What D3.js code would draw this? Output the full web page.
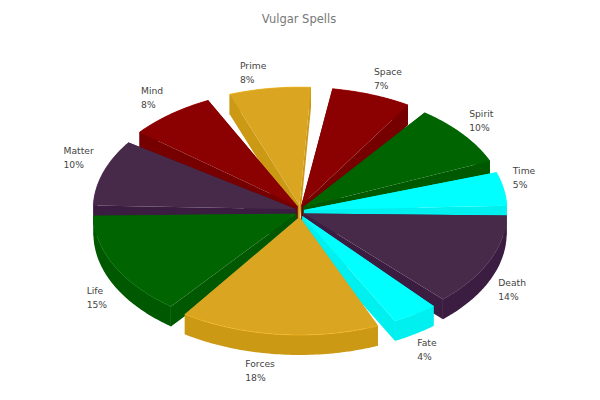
<!DOCTYPE html>
<html><head><meta charset="utf-8">
<script src="https://cdn.jsdelivr.net/npm/d3@7/dist/d3.min.js"></script>
<style>html,body{margin:0;padding:0;background:#fff}svg{display:block}text{font-family:"DejaVu Sans",sans-serif}</style>
</head><body><svg id="c" width="600" height="400"></svg>
<script>
const categories=["Death","Fate","Forces","Life","Matter","Mind","Prime","Space","Spirit","Time"];
const values=[13.3,4.4,17.25,14.3,10,8.2,8.3,7.35,9.9,5.35];
const topColors=["#472a4a","#00ffff","#daa520","#006400","#472a4a","#8b0000","#daa520","#8b0000","#006400","#00ffff"];
const wallColors=["#3c1d42","#00f0f0","#cc9914","#005800","#3c1d42","#760000","#cc9914","#760000","#005800","#00f0f0"];
const sliceGapDeg=[3,3,6,1.5,4,5,7,4,6,3];
const labelNudgeX=[8,3,-17,-3,-9,-8.5,-14,11,6,5];
const labelNudgeY=[16,10,6,18,-6,6,13,11,3.5,-7];

const cx=300,cy=211,rx=203,ry=118,depth=20,ex=4,ey=6;
const total=d3.sum(values);
const svg=d3.select("#c");
svg.append("text").attr("x",299).attr("y",23).attr("text-anchor","middle").attr("font-size",11.5).attr("fill","#777").text("Vulgar Spells");

const rad=Math.PI/180, rot=-0.5*rad;
const pie=d3.pie().sort(null).startAngle(Math.PI/2+rot).endAngle(Math.PI/2+2*Math.PI+rot);
const slices=pie(values).map((d,i)=>{
  const pad=sliceGapDeg[i]*rad;
  const a0=d.startAngle-Math.PI/2+pad/2, a1=d.endAngle-Math.PI/2-pad/2, mid=(a0+a1)/2;
  return {i,a0,a1,mid,ax:cx+ex*Math.cos(mid),ay:cy+ey*Math.sin(mid)};
});
const pt=(s,a,dz=0)=>[s.ax+rx*Math.cos(a),s.ay+ry*Math.sin(a)+dz];
const line=d3.line();
const order=slices.slice().sort((p,q)=>Math.sin(p.mid)-Math.sin(q.mid));
order.forEach(s=>{
  const g=svg.append("g");
  const arcA=d3.range(0,61).map(k=>s.a0+(s.a1-s.a0)*k/60);
  const top=arcA.map(a=>pt(s,a));
  const low=arcA.map(a=>pt(s,a,depth)).reverse();
  const wall=wallColors[s.i];
  [s.a0,s.a1].forEach(a=>{
    g.append("path").attr("d",line([[s.ax,s.ay],pt(s,a),pt(s,a,depth),[s.ax,s.ay+depth]])+"Z").attr("fill",wall);
  });
  g.append("path").attr("d",line(top.concat(low))+"Z").attr("fill",wall);
  g.append("path").attr("d",line([[s.ax,s.ay]].concat(top))+"Z").attr("fill",topColors[s.i]);
  g.append("path").attr("d",line(top)).attr("fill","none").attr("stroke",d3.color(topColors[s.i]).brighter(0.35)).attr("stroke-width",0.6);
});
slices.forEach(s=>{
  const px=cx+1.1*rx*Math.cos(s.mid)+labelNudgeX[s.i], py=cy+1.3*ry*Math.sin(s.mid)+labelNudgeY[s.i];
  const t=svg.append("text").attr("font-size",9.2).attr("fill","#444");
  const a=t.append("tspan").attr("x",px).attr("y",py-3).text(categories[s.i]);
  const b=t.append("tspan").attr("x",px).attr("y",py+11).text(d3.format(".0f")(values[s.i]/total*100)+"%");
  const w=t.node().getBBox().width;
  a.attr("x",px-w/2);b.attr("x",px-w/2);
});
</script></body></html>
